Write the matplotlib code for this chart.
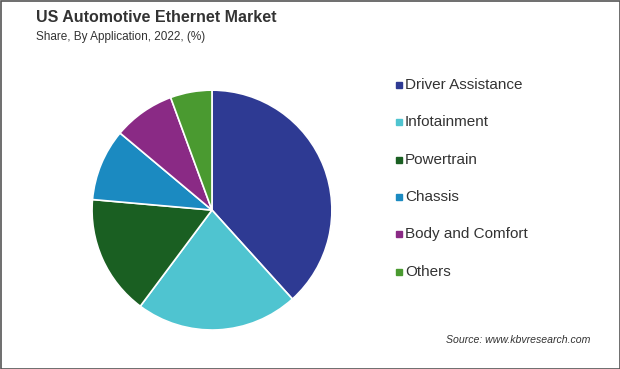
import matplotlib.pyplot as plt
from matplotlib.patches import Rectangle

# data
categories = ["Driver Assistance", "Infotainment", "Powertrain", "Chassis",
              "Body and Comfort", "Others"]
shares = [38.3, 21.9, 16.2, 9.7, 8.3, 5.6]
colors = ["#2E3A93", "#4FC4D0", "#1A5F22", "#1B8AC1", "#8A2A85", "#4A9A30"]

fig = plt.figure(figsize=(6.2, 3.69), dpi=100)
plt.rcParams['font.family'] = ['Liberation Sans', 'DejaVu Sans']

# pie
ax = fig.add_axes([0.1484, 0.1057, 0.387, 0.650])
wedges, _ = ax.pie(shares, colors=colors, startangle=90, counterclock=False,
                   wedgeprops=dict(edgecolor="white", linewidth=1.2))
ax.set_xlim(-1, 1)
ax.set_ylim(-1, 1)
ax.set_aspect("equal")

# legend drawn by hand so spacing matches
leg_y = [85, 122, 160, 197, 234, 272]
for name, col, y in zip(categories, colors, leg_y):
    fy = 1 - y / 369
    fig.patches.append(Rectangle((396 / 620, fy - 3 / 369), 6 / 620, 6 / 369,
                                 transform=fig.transFigure, color=col))
    fig.text(405 / 620, fy, name, fontsize=11, color="#333333",
             va="center", ha="left")

fig.text(36 / 620, 1 - 18 / 369, "US Automotive Ethernet Market",
         fontsize=11.5, fontweight="bold", color="#333333", va="center")
fig.text(36 / 620, 1 - 37 / 369, "Share, By Application, 2022, (%)",
         fontsize=8.5, color="#333333", va="center")
fig.text(590 / 620, 1 - 340 / 369, "Source: www.kbvresearch.com",
         fontsize=7.6, style="italic", color="#333333", va="center", ha="right")

# thin frame round the picture
fig.patches.append(Rectangle((0.5 / 620, 0.5 / 369), 1 - 1 / 620, 1 - 1 / 369,
                             transform=fig.transFigure, fill=False,
                             edgecolor="#555555", linewidth=1.2))

fig.savefig("out.png", dpi=100)
